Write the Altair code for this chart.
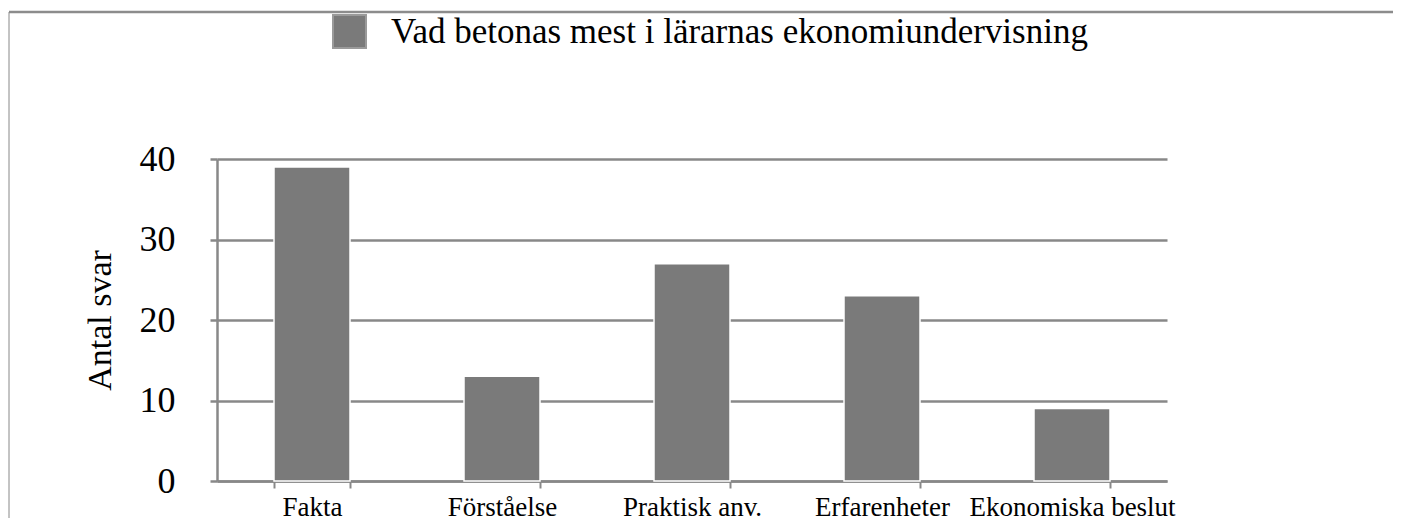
import altair as alt
import pandas as pd

categories = ["Fakta", "Förståelse", "Praktisk anv.", "Erfarenheter", "Ekonomiska beslut"]
values = [39, 13, 27, 23, 9]
series_name = "Vad betonas mest i lärarnas ekonomiundervisning"
y_ticks = [0, 10, 20, 30, 40]

df = pd.DataFrame({"kategori": categories, "antal": values, "serie": [series_name] * len(categories)})

FONT = "Liberation Serif"
GRAY = "#888888"

bars = alt.Chart(df).mark_bar(stroke="white", strokeWidth=1.5).encode(
    x=alt.X(
        "kategori:N",
        sort=categories,
        scale=alt.Scale(paddingInner=0.6, paddingOuter=0.3),
        axis=alt.Axis(
            title=None, labelAngle=0, labelFont=FONT, labelFontSize=27, labelColor="black",
            labelPadding=6, labelOverlap=False, labelBound=False, labelLimit=0,
            tickBand="extent", tickSize=7, tickWidth=2, tickColor=GRAY,
            domainColor=GRAY, domainWidth=2.5, grid=False,
        ),
    ),
    y=alt.Y(
        "antal:Q",
        scale=alt.Scale(domain=[0, 40], nice=False),
        axis=alt.Axis(
            values=y_ticks, grid=True, gridColor=GRAY, gridWidth=2.5,
            domainColor=GRAY, domainWidth=2.5, tickColor=GRAY, tickWidth=2.5, tickSize=7,
            labelFont=FONT, labelFontSize=36, labelColor="black", labelPadding=35,
            title="Antal svar", titleFont=FONT, titleFontSize=34, titleFontWeight="normal",
            titleColor="black", titleAngle=-90, titleX=-107, titleY=161,
            titleBaseline="alphabetic", titleAlign="center",
        ),
    ),
    color=alt.Color(
        "serie:N",
        scale=alt.Scale(range=["#7a7a7a"]),
        legend=alt.Legend(
            orient="none", legendX=115, legendY=-145, title=None,
            symbolType="square", symbolSize=1089, symbolStrokeColor="#9a9a9a",
            symbolStrokeWidth=2, labelFont=FONT, labelFontSize=35, labelColor="black",
            labelOffset=24, labelLimit=0, padding=0,
        ),
    ),
)

frame_df = pd.DataFrame({"a": [0]})
top_line = alt.Chart(frame_df).mark_rule(color="#8c8c8c", strokeWidth=2.5).encode(
    x=alt.value(-208), x2=alt.value(1190), y=alt.value(-147)
)
left_line = alt.Chart(frame_df).mark_rule(color="#888888", strokeWidth=1).encode(
    x=alt.value(-208), y=alt.value(-147), y2=alt.value(365)
)

chart = alt.layer(bars, top_line, left_line).properties(
    width=950,
    height=322,
    padding={"left": 209, "top": 151, "right": 226, "bottom": 37},
    autosize=alt.AutoSizeParams(type="none"),
).configure_view(stroke=None)

chart.save("out.html", embed_options={"renderer": "svg", "actions": False})
